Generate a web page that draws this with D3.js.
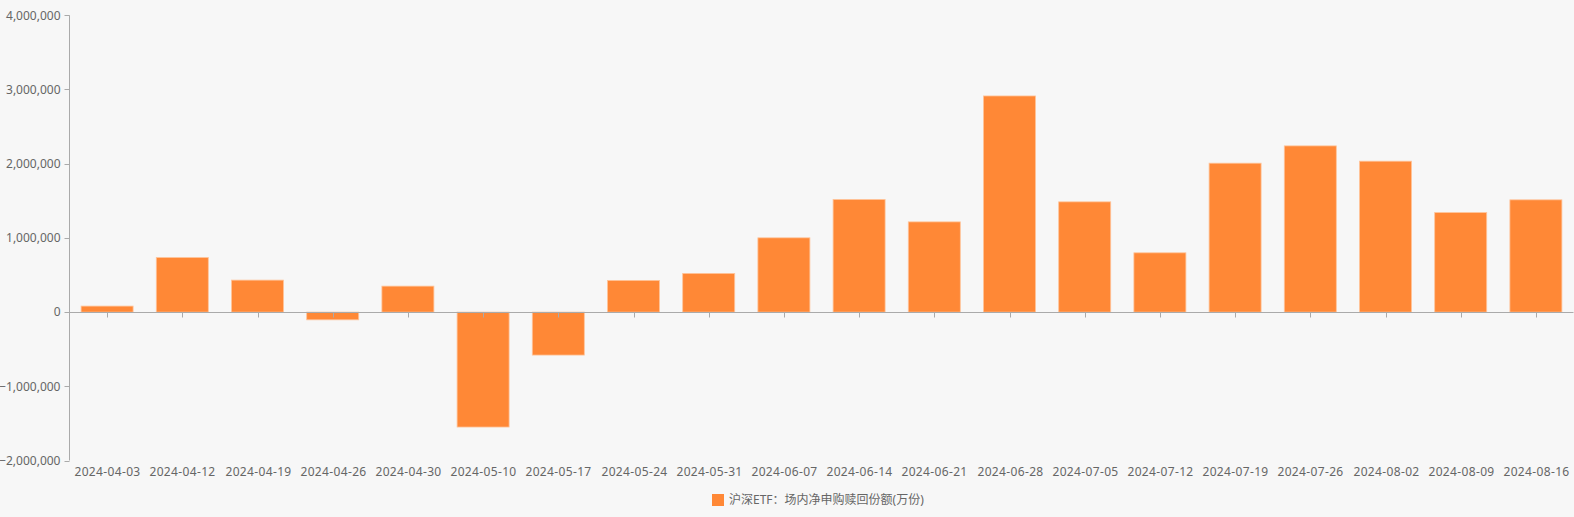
<!DOCTYPE html>
<html><head><meta charset="utf-8">
<script src="https://cdn.jsdelivr.net/npm/d3@7"></script>
<style>
html,body{margin:0;padding:0;background:#f7f7f7;}
svg{display:block;font-family:"Noto Sans","Noto Sans CJK SC",sans-serif;}
</style></head>
<body>
<svg id="c" width="1574" height="517"></svg>
<script>
const categories = ["2024-04-03","2024-04-12","2024-04-19","2024-04-26","2024-04-30","2024-05-10","2024-05-17","2024-05-24","2024-05-31","2024-06-07","2024-06-14","2024-06-21","2024-06-28","2024-07-05","2024-07-12","2024-07-19","2024-07-26","2024-08-02","2024-08-09","2024-08-16"];
const values = [81000,735000,431000,-104000,350000,-1549000,-579000,427000,521000,1001000,1518000,1216000,2913000,1486000,799000,2007000,2240000,2034000,1341000,1513000];
const yTicks = [-2000000,-1000000,0,1000000,2000000,3000000,4000000];
const seriesName = "沪深ETF：场内净申购赎回份额(万份)";

(function(){
const svg = d3.select("#c");
const gLeft = 69.5, gRight = 1573.5, gTop = 15.3, gBottom = 460.5;
const xc = d3.scaleBand().domain(categories).range([gLeft, gRight]);
const y = d3.scaleLinear().domain([-2000000, 4000000]).range([gBottom, gTop]);
const fmt = d3.format(",");
const axisColor = "#aaaaaa", textColor = "#666666";

// y axis
svg.append("line").attr("x1", gLeft).attr("x2", gLeft).attr("y1", gTop).attr("y2", gBottom)
  .attr("stroke", axisColor).attr("stroke-width", 1);
const yg = svg.append("g");
yTicks.forEach(t => {
  yg.append("line").attr("x1", gLeft - 5).attr("x2", gLeft).attr("y1", Math.round(y(t)) + 0.5).attr("y2", Math.round(y(t)) + 0.5)
    .attr("stroke", axisColor);
  yg.append("text").attr("x", gLeft - 9).attr("y", y(t)).attr("dy", "0.35em")
    .attr("text-anchor", "end").attr("font-size", 12).attr("fill", textColor).text(fmt(t));
});

// bars
const bw = 52;
svg.append("g").selectAll("rect").data(values).join("rect")
  .attr("x", (d, i) => xc(categories[i]) + xc.bandwidth() / 2 - bw / 2)
  .attr("width", bw)
  .attr("y", d => Math.min(y(d), y(0)))
  .attr("height", d => Math.abs(y(d) - y(0)))
  .attr("fill", "#ff8836")
  .attr("stroke", "#ffc49a").attr("stroke-width", 0.8);

// x axis at zero
const z = Math.round(y(0)) + 0.5;
svg.append("line").attr("x1", gLeft).attr("x2", gRight).attr("y1", z).attr("y2", z)
  .attr("stroke", axisColor).attr("stroke-width", 1);
categories.forEach(c => {
  const cx = Math.round(xc(c) + xc.bandwidth() / 2) + 0.5;
  svg.append("line").attr("x1", cx).attr("x2", cx).attr("y1", z).attr("y2", z + 5).attr("stroke", axisColor);
  svg.append("text").attr("x", cx).attr("y", 472).attr("dy", "0.35em").attr("text-anchor", "middle")
    .attr("font-size", 12).attr("letter-spacing", 0.35).attr("fill", textColor).text(c);
});

// legend
const lg = svg.append("g");
lg.append("rect").attr("x", 712).attr("y", 494).attr("width", 12).attr("height", 12).attr("fill", "#ff8836");
lg.append("text").attr("x", 729).attr("y", 500).attr("dy", "0.35em").attr("font-size", 12)
  .attr("fill", textColor).text(seriesName);
})();
</script>
</body></html>
